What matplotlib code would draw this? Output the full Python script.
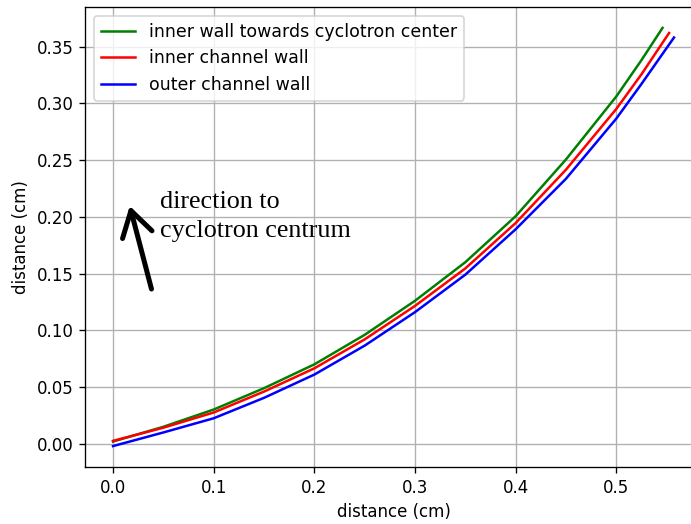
import matplotlib.pyplot as plt

# wall profiles of the extraction channel, distance in cm
x_green = [0.0, 0.05, 0.1, 0.15, 0.2, 0.25, 0.3, 0.35, 0.4, 0.45, 0.5, 0.525, 0.546]
y_green = [0.002, 0.0150, 0.0302, 0.0490, 0.0700, 0.0960, 0.1260, 0.1600, 0.2005,
           0.2505, 0.3060, 0.3380, 0.3665]

x_red = [0.0, 0.05, 0.1, 0.15, 0.2, 0.25, 0.3, 0.35, 0.4, 0.45, 0.5, 0.525, 0.5525]
y_red = [0.0026, 0.0142, 0.0276, 0.0460, 0.0665, 0.0920, 0.1215, 0.1545, 0.1945,
         0.2415, 0.2950, 0.3255, 0.3620]

x_blue = [0.0, 0.05, 0.1, 0.15, 0.2, 0.25, 0.3, 0.35, 0.4, 0.45, 0.5, 0.525, 0.5574]
y_blue = [-0.002, 0.0100, 0.0225, 0.0405, 0.0610, 0.0865, 0.1160, 0.1490, 0.1890,
          0.2335, 0.2865, 0.3170, 0.3580]

labels = ["inner wall towards cyclotron center", "inner channel wall", "outer channel wall"]

fig = plt.figure(figsize=(691 / 120, 524 / 120), dpi=120)
ax = fig.add_axes([0.123, 0.1088, 0.893, 0.8779])

ax.plot(x_green, y_green, color="green", label=labels[0])
ax.plot(x_red, y_red, color="red", label=labels[1])
ax.plot(x_blue, y_blue, color="blue", label=labels[2])

ax.grid(True)
ax.set_xlabel("distance (cm)")
ax.set_ylabel("distance (cm)")
ax.legend(loc="upper left", fontsize=10.4)

# arrow pointing to the cyclotron centre
ax.annotate("", xy=(0.0166, 0.2096), xytext=(0.0382, 0.1364),
            arrowprops=dict(arrowstyle="->,head_length=1.8,head_width=1.1",
                            mutation_scale=8.3, lw=3.0, color="black",
                            shrinkA=0, shrinkB=0, capstyle="round", joinstyle="round"))
ax.text(0.0465, 0.2, "direction to\ncyclotron centrum", family="Liberation Serif",
        fontsize=15.7, va="center", ha="left", linespacing=1.4)

fig.savefig("out.png", dpi=120)
